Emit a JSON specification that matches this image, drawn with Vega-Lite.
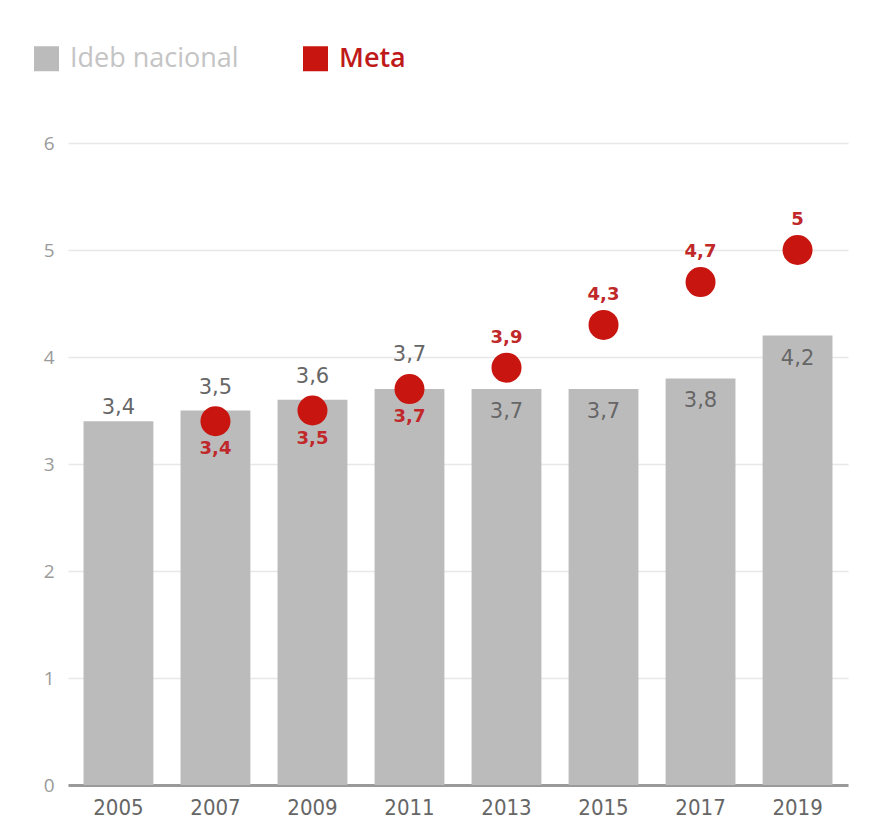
{
  "$schema": "https://vega.github.io/schema/vega-lite/v6.json",
  "width": 780,
  "height": 642,
  "autosize": {"type": "none"},
  "padding": {"left": 68, "top": 143, "right": 23, "bottom": 54},
  "background": "white",
  "config": {
    "view": {"stroke": null},
    "font": "Open Sans",
    "locale": {"number": {"decimal": ",", "thousands": ".", "grouping": [3], "currency": ["R$", ""]}}
  },
  "data": {
    "values": [
      {"ano": 2005, "ideb": 3.4, "meta": null},
      {"ano": 2007, "ideb": 3.5, "meta": 3.4},
      {"ano": 2009, "ideb": 3.6, "meta": 3.5},
      {"ano": 2011, "ideb": 3.7, "meta": 3.7},
      {"ano": 2013, "ideb": 3.7, "meta": 3.9},
      {"ano": 2015, "ideb": 3.7, "meta": 4.3},
      {"ano": 2017, "ideb": 3.8, "meta": 4.7},
      {"ano": 2019, "ideb": 4.2, "meta": 5.0}
    ]
  },
  "encoding": {
    "x": {
      "field": "ano",
      "type": "ordinal",
      "scale": {"paddingInner": 0.28, "paddingOuter": 0.16},
      "axis": {
        "title": null,
        "labelAngle": 0,
        "domain": true,
        "domainColor": "#9a9a9a",
        "domainWidth": 3,
        "ticks": false,
        "labelPadding": 12,
        "labelFontSize": 22,
        "labelColor": "#666666",
        "labelFont": "DejaVu Sans Condensed, Liberation Sans Narrow, Open Sans"
      }
    }
  },
  "layer": [
    {
      "mark": {"type": "bar", "color": "#bcbbbc"},
      "encoding": {
        "y": {
          "field": "ideb",
          "type": "quantitative",
          "scale": {"domain": [0, 6], "nice": false},
          "axis": {
            "title": null,
            "values": [0, 1, 2, 3, 4, 5, 6],
            "format": "d",
            "grid": true,
            "gridColor": "#e8e8e8",
            "gridWidth": 1.5,
            "domain": false,
            "ticks": false,
            "labelPadding": 14,
            "labelFontSize": 19,
            "labelColor": "#9a9a9a",
            "labelFont": "Open Sans"
          }
        },
        "color": {
          "datum": "Ideb nacional",
          "type": "nominal",
          "scale": {"domain": ["Ideb nacional", "Meta"], "range": ["#bcbbbc", "#c8150f"]},
          "legend": {
            "title": null,
            "orient": "none",
            "legendX": -35,
            "legendY": -98,
            "direction": "horizontal",
            "symbolType": "square",
            "symbolSize": 625,
            "symbolStrokeWidth": 0,
            "symbolOpacity": 1,
            "labelFontSize": 27,
            "labelFont": "Open Sans",
            "labelLimit": 400,
            "labelOffset": 10,
            "columnPadding": 63,
            "padding": 0,
            "encode": {
              "labels": {
                "update": {
                  "fill": {"signal": "datum.label === 'Meta' ? '#c0191a' : '#c4c4c4'"},
                  "fontWeight": {"signal": "datum.label === 'Meta' ? 600 : 400"}
                }
              }
            }
          }
        }
      }
    },
    {
      "transform": [{"filter": "datum.ano == 2005"}],
      "mark": {"type": "text", "baseline": "middle", "dy": -13, "fontSize": 21, "font": "DejaVu Sans", "color": "#666666"},
      "encoding": {"y": {"field": "ideb", "type": "quantitative"}, "text": {"field": "ideb", "type": "quantitative", "format": "~r"}}
    },
    {
      "transform": [{"filter": "datum.ano == 2007 || datum.ano == 2009"}],
      "mark": {"type": "text", "baseline": "middle", "dy": -23, "fontSize": 21, "font": "DejaVu Sans", "color": "#666666"},
      "encoding": {"y": {"field": "ideb", "type": "quantitative"}, "text": {"field": "ideb", "type": "quantitative", "format": "~r"}}
    },
    {
      "transform": [{"filter": "datum.ano == 2011"}],
      "mark": {"type": "text", "baseline": "middle", "dy": -34, "fontSize": 21, "font": "DejaVu Sans", "color": "#666666"},
      "encoding": {"y": {"field": "ideb", "type": "quantitative"}, "text": {"field": "ideb", "type": "quantitative", "format": "~r"}}
    },
    {
      "transform": [{"filter": "datum.ano >= 2013"}],
      "mark": {"type": "text", "baseline": "middle", "dy": 23, "fontSize": 21, "font": "DejaVu Sans", "color": "#666666"},
      "encoding": {"y": {"field": "ideb", "type": "quantitative"}, "text": {"field": "ideb", "type": "quantitative", "format": "~r"}}
    },
    {
      "transform": [{"filter": "datum.meta != null"}],
      "mark": {"type": "circle", "opacity": 1, "size": 900},
      "encoding": {
        "y": {"field": "meta", "type": "quantitative"},
        "color": {"datum": "Meta", "type": "nominal"}
      }
    },
    {
      "transform": [{"filter": "datum.meta != null && datum.ano <= 2011"}],
      "mark": {"type": "text", "baseline": "middle", "dy": 28, "fontSize": 18, "font": "DejaVu Sans", "fontWeight": "bold", "color": "#c0282a"},
      "encoding": {"y": {"field": "meta", "type": "quantitative"}, "text": {"field": "meta", "type": "quantitative", "format": "~r"}}
    },
    {
      "transform": [{"filter": "datum.meta != null && datum.ano >= 2013"}],
      "mark": {"type": "text", "baseline": "middle", "dy": -30, "fontSize": 18, "font": "DejaVu Sans", "fontWeight": "bold", "color": "#c0282a"},
      "encoding": {"y": {"field": "meta", "type": "quantitative"}, "text": {"field": "meta", "type": "quantitative", "format": "~r"}}
    }
  ]
}
